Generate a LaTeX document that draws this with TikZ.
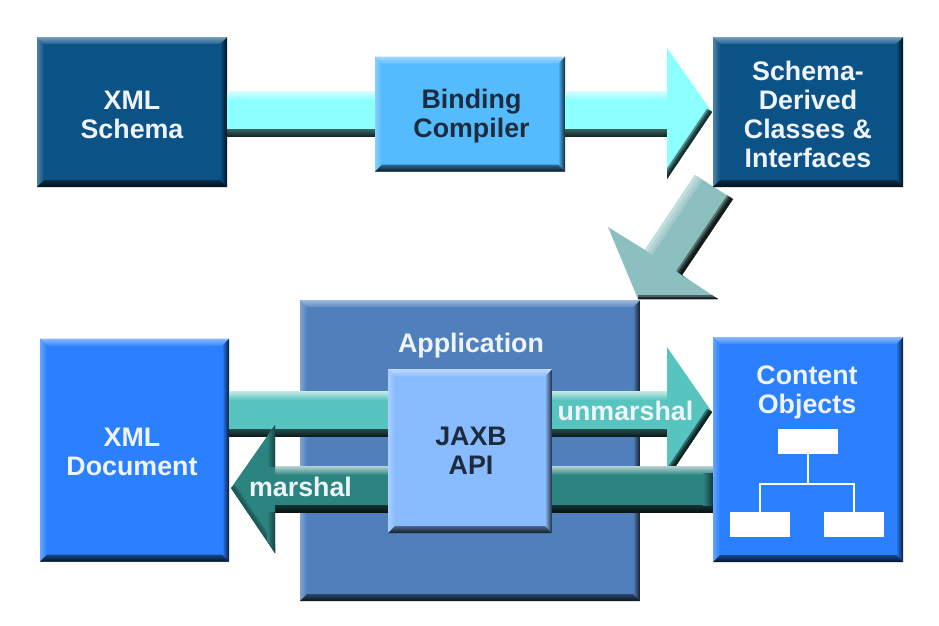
\documentclass[tikz,border=0pt]{standalone}
\usepackage{fontspec}
\setmainfont{Liberation Sans}
\usetikzlibrary{backgrounds,calc}

\definecolor{schemablue}{HTML}{0B5287}
\definecolor{compilerblue}{HTML}{55BBFF}
\definecolor{docblue}{HTML}{2A80FF}
\definecolor{appblue}{HTML}{5080BC}
\definecolor{apiblue}{HTML}{88BBFF}
\definecolor{flowcyan}{HTML}{8CFFFF}
\definecolor{flowgrey}{HTML}{8CBFBF}
\definecolor{flowteal}{HTML}{58C4BF}
\definecolor{flowdark}{HTML}{2C8480}
\definecolor{inkdark}{HTML}{1C2C3C}
\definecolor{inklight}{HTML}{EEF4FA}

\tikzset{
    every node/.style={font=\bfseries\fontsize{26.8}{29}\selectfont,inner sep=0pt,align=center},
    % raised box, the edges are shaded from the fill colour
    bevelbox/.style={fill=#1,path picture={
        \coordinate (nw) at (path picture bounding box.north west);
        \coordinate (ne) at (path picture bounding box.north east);
        \coordinate (sw) at (path picture bounding box.south west);
        \coordinate (se) at (path picture bounding box.south east);
        \shade[left color=#1!72!white,right color=#1] (nw) -- ($(nw)+(7pt,-7pt)$) -- ($(sw)+(7pt,7pt)$) -- (sw) -- cycle;
        \shade[left color=#1,right color=#1!22!black] ($(ne)+(-7pt,-7pt)$) -- (ne) -- (se) -- ($(se)+(-7pt,7pt)$) -- cycle;
        \shade[top color=#1!55!white,bottom color=#1!92!white] (nw) -- (ne) -- ($(ne)+(-7pt,-7pt)$) -- ($(nw)+(7pt,-7pt)$) -- cycle;
        \shade[top color=#1!55!black,bottom color=#1!15!black] ($(sw)+(7pt,7pt)$) -- ($(se)+(-7pt,7pt)$) -- (se) -- (sw) -- cycle;
    }},
    boxsize/.style 2 args={minimum width=#1,minimum height=#2},
    darklabel/.style={text=inkdark},
    lightlabel/.style={text=inklight},
    leafbox/.style={fill=white,minimum width=60pt,minimum height=25pt},
}

% colour, left node, right node, top y, bottom y
\newcommand{\flowbar}[5]{
    \fill[#1] (#2 |- 0,#4) rectangle (#3 |- 0,#5);
    \shade[top color=#1!35!white,bottom color=#1] (#2 |- 0,#4) rectangle (#3 |- 0,#4+9);
    \shade[top color=#1!40!black,bottom color=#1!15!black] (#2 |- 0,#5-7) rectangle (#3 |- 0,#5);
}
% colour, back x, top y, bottom y, tip x, tip y, lower edge as width/colour mix
\newcommand{\flowhead}[7]{
    \fill[#1] (#2,#3) -- (#5,#6) -- (#2,#4) -- cycle;
    \begin{scope}
        \clip (#2,#3) -- (#5,#6) -- (#2,#4) -- cycle;
        \foreach \w/\mix in {#7}{
            \draw[#1!\mix!black,line width=2*\w pt] (#5,#6) -- (#2,#4);
        }
    \end{scope}
}

\begin{document}
\begin{tikzpicture}[x=1pt,y=-1pt]
    \useasboundingbox (0,0) rectangle (939,625);
    % boxes
    \node[bevelbox=schemablue,boxsize={190pt}{150pt}] (schema) at (132,112) {};
    \node[bevelbox=compilerblue,boxsize={190pt}{115pt}] (compiler) at (470,114) {};
    \node[bevelbox=schemablue,boxsize={190pt}{150pt}] (derived) at (808,112) {};
    \node[bevelbox=docblue,boxsize={189pt}{223pt}] (document) at (134.5,450) {};
    \node[bevelbox=appblue,boxsize={340pt}{301pt}] (app) at (470,450.5) {};
    \node[bevelbox=docblue,boxsize={190pt}{225pt}] (content) at (808,449.5) {};

    % flows in the top row
    \flowbar{flowcyan}{schema.east}{compiler.west}{91}{136}
    \coordinate (headback) at (667,0);
    \flowbar{flowcyan}{compiler.east}{headback}{91}{136}
    \flowhead{flowcyan}{667}{48}{179}{712}{112}{6/55,4/30,2/18}

    % flow from the derived classes, tucked under the box
    \begin{scope}[on background layer]
        \fill[flowgrey] (695,175) -- (733,199) -- (682,275) -- (718,299) -- (638,299) -- (608,227) -- (645,250) -- cycle;
        \clip (695,175) -- (733,199) -- (682,275) -- (718,299) -- (638,299) -- (608,227) -- (645,250) -- cycle;
        \foreach \w/\mix in {9/82,6/68,3/52}{
            \draw[flowgrey!\mix!white,line width=2*\w pt] (695,175) -- (645,250);
        }
        \foreach \w/\mix in {7/60,5/30,3/14}{
            \draw[flowgrey!\mix!black,line width=2*\w pt] (733,199) -- (682,275);
        }
        \foreach \w/\mix in {5/50,3.5/25,2/14}{
            \draw[flowgrey!\mix!black,line width=2*\w pt] (638,300) -- (718,300);
        }
    \end{scope}

    % unmarshal and marshal flows
    \coordinate (jaxbleft) at (388,0);
    \coordinate (jaxbright) at (552,0);
    \flowbar{flowteal}{document.east}{jaxbleft}{391}{436}
    \flowbar{flowteal}{jaxbright}{headback}{391}{436}
    \flowhead{flowteal}{667}{347}{479}{712}{412}{6/55,4/30,2/18}
    \coordinate (marshalback) at (275,0);
    \flowbar{flowdark}{jaxbright}{content.west}{466}{512}
    \flowbar{flowdark}{marshalback}{jaxbleft}{466}{512}
    \shade[left color=flowdark,right color=flowdark!45!black] (703,473) rectangle (content.west |- 0,505);
    \flowhead{flowdark}{275}{425}{553}{231}{488}{5/82,3/68}
    \begin{scope}
        \clip (275,425) -- (231,488) -- (275,553) -- cycle;
        \shade[left color=flowdark,right color=flowdark!50!black] (267,425) rectangle (275,466);
        \shade[left color=flowdark,right color=flowdark!50!black] (267,512) rectangle (275,553);
    \end{scope}
    \node[lightlabel] (unmarshal) at (625.5,411) {unmarshal};
    \node[lightlabel] (marshal) at (300.5,486.5) {marshal};

    \node[bevelbox=apiblue,boxsize={164pt}{164pt}] (jaxb) at (470,451) {};

    % box texts
    \node[lightlabel] (schemalabel) at (132,114.5) {XML\\Schema};
    \node[darklabel] (compilerlabel) at (471.5,116.5) {Binding\\Compiler};
    \node[lightlabel] (derivedlabel) at (808,114) {Schema-\\Derived\\Classes \&\\Interfaces};
    \node[lightlabel] (documentlabel) at (132,452) {XML\\Document};
    \node[lightlabel] (applabel) at (471,346) {Application};
    \node[darklabel] (jaxblabel) at (471,451) {JAXB\\API};
    \node[lightlabel] (contentlabel) at (807,392) {Content\\Objects};

    % small object tree
    \node[leafbox] (rootleaf) at (808,441.5) {};
    \node[leafbox] (leftleaf) at (760,524.5) {};
    \node[leafbox] (rightleaf) at (854,524.5) {};
    \coordinate (treebus) at (808,484);
    \draw[white,line width=1.5pt] (rootleaf.south) -- (treebus);
    \draw[white,line width=1.5pt] (leftleaf.north) |- (treebus) -| (rightleaf.north);
\end{tikzpicture}
\end{document}
